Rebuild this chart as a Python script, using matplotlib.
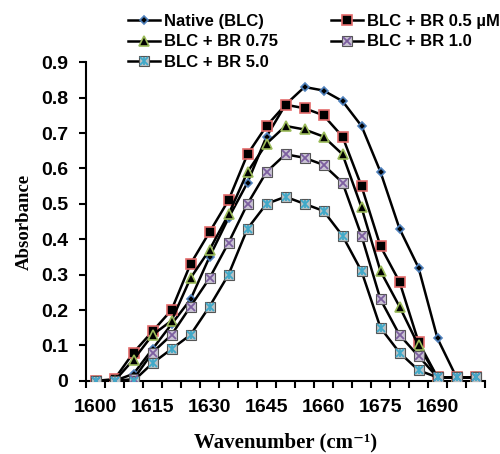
import matplotlib
matplotlib.use('Agg')
from matplotlib import pyplot as plt
import numpy as np

wavenumber = list(range(1600, 1701, 5))
tick_labels = ['1600', '1615', '1630', '1645', '1660', '1675', '1690']

native = [0, 0, 0.02, 0.09, 0.16, 0.23, 0.35, 0.46, 0.56, 0.69, 0.78,
          0.83, 0.82, 0.79, 0.72, 0.59, 0.43, 0.32, 0.12, 0.01, 0.01]
br_05 = [0, 0.005, 0.08, 0.14, 0.20, 0.33, 0.42, 0.51, 0.64, 0.72, 0.78,
         0.77, 0.75, 0.69, 0.55, 0.38, 0.28, 0.11, 0.01, 0.01, 0.01]
br_075 = [0, 0, 0.06, 0.13, 0.17, 0.29, 0.37, 0.47, 0.59, 0.67, 0.72,
          0.71, 0.69, 0.64, 0.49, 0.31, 0.21, 0.10, 0.01, 0.01, 0.01]
br_10 = [0, 0, 0.005, 0.08, 0.13, 0.21, 0.29, 0.39, 0.50, 0.59, 0.64,
         0.63, 0.61, 0.56, 0.41, 0.23, 0.13, 0.07, 0.01, 0.01, 0.01]
br_50 = [0, 0, 0, 0.05, 0.09, 0.13, 0.21, 0.30, 0.43, 0.50, 0.52,
         0.50, 0.48, 0.41, 0.31, 0.15, 0.08, 0.03, 0.01, 0.01, 0.01]

x = np.arange(len(wavenumber))

fig = plt.figure(figsize=(5, 4.54), dpi=100)
ax = fig.add_axes([0.172, 0.161, 0.798, 0.702])

sans = 'Liberation Sans'
serif = ['Liberation Serif', 'DejaVu Serif']

h_nat, = ax.plot(x, native, color='black', lw=1.8, marker='D', ms=4.5,
                 mfc='black', mec='#4F81BD', mew=1.2, zorder=3)
h_05, = ax.plot(x, br_05, color='black', lw=1.8, marker='s', ms=6.5,
                mfc='black', mec='#E46C6C', mew=1.2, zorder=3)
h_075, = ax.plot(x, br_075, color='black', lw=1.8, marker='^', ms=7,
                 mfc='black', mec='#9BBB59', mew=1.2, zorder=3)
h_10, = ax.plot(x, br_10, color='black', lw=1.8, marker='s', ms=7,
                mfc='#c9c3d3', mec='#555555', mew=0.8, zorder=3)
h_10x, = ax.plot(x, br_10, ls='none', marker='x', ms=5.5,
                 mec='#7D5FA0', mew=1.3, zorder=4)
h_50, = ax.plot(x, br_50, color='black', lw=1.8, marker='s', ms=7,
                mfc='#b9c2c6', mec='#555555', mew=0.8, zorder=3)
h_50x, = ax.plot(x, br_50, ls='none', marker='x', ms=5.5,
                 mec='#3FA9C9', mew=1.3, zorder=4)
h_50v, = ax.plot(x, br_50, ls='none', marker='|', ms=5.5,
                 mec='#3FA9C9', mew=1.3, zorder=4)

ax.set_xlim(-0.5, len(x) - 0.5)
ax.set_ylim(0, 0.9)
ax.set_yticks(np.arange(0, 0.91, 0.1))
ax.set_yticklabels(['0'] + ['%.1f' % v for v in np.arange(0.1, 0.91, 0.1)])
ax.set_xticks(x[::3])
ax.set_xticklabels(tick_labels)
ax.set_xticks(np.arange(-0.5, len(x), 1), minor=True)
ax.tick_params(axis='x', which='major', length=0, pad=13)
ax.tick_params(axis='x', which='minor', length=5, width=1.5, direction='out')
ax.tick_params(axis='y', length=5, width=1.5, direction='out', pad=8)
for lab in ax.get_xticklabels() + ax.get_yticklabels():
    lab.set_fontfamily(sans)
    lab.set_fontweight('bold')
    lab.set_fontsize(14)

for s in ['top', 'right']:
    ax.spines[s].set_visible(False)
for s in ['left', 'bottom']:
    ax.spines[s].set_linewidth(1.5)

ax.set_xlabel('Wavenumber (cm\u207b\u00b9)', fontfamily=serif,
              fontweight='bold', fontsize=15, labelpad=12)
ax.set_ylabel('Absorbance', fontfamily=serif, fontweight='bold',
              fontsize=13.5, labelpad=6)

handles = [h_nat, h_075, (h_50, h_50x, h_50v), h_05, (h_10, h_10x)]
labels = ['Native (BLC)', 'BLC + BR 0.75', 'BLC + BR 5.0',
          'BLC + BR 0.5 \u00b5M', 'BLC + BR 1.0']
fig.legend(handles, labels, ncol=2, loc='upper left',
           bbox_to_anchor=(0.256, 0.969), frameon=False,
           borderpad=0, borderaxespad=0,
           prop={'family': sans, 'weight': 'bold', 'size': 12},
           handlelength=1.9, handletextpad=0.25, columnspacing=3.2,
           labelspacing=0.32)

fig.savefig('out.png', dpi=100)
